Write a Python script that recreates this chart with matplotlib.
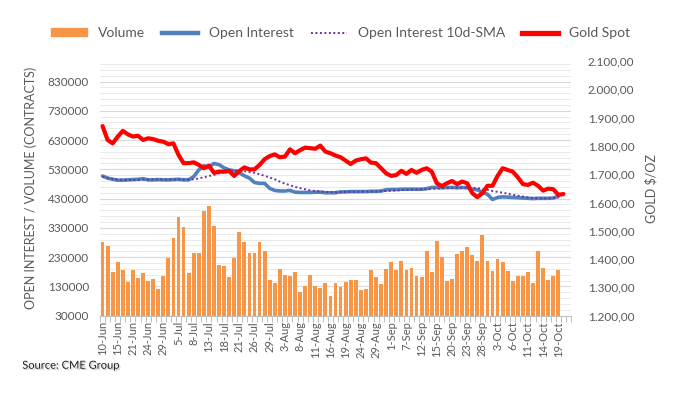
import matplotlib.pyplot as plt
import matplotlib.ticker as mticker
import matplotlib.patheffects as pe
from matplotlib.patches import Patch
from matplotlib.lines import Line2D
import numpy as np

# trading days from 10-Jun to 21-Oct (the last slot is empty)
n_slots = 93
tick_labels = ["10-Jun", "15-Jun", "21-Jun", "24-Jun", "29-Jun", "5-Jul", "8-Jul",
               "13-Jul", "18-Jul", "21-Jul", "26-Jul", "29-Jul", "3-Aug", "8-Aug",
               "11-Aug", "16-Aug", "19-Aug", "24-Aug", "29-Aug", "1-Sep", "7-Sep",
               "12-Sep", "15-Sep", "20-Sep", "23-Sep", "28-Sep", "3-Oct", "6-Oct",
               "11-Oct", "14-Oct", "19-Oct"]

volume = [283000, 268000, 179000, 213000, 186000, 145000, 186000, 159000, 175000, 148000,
          155000, 122000, 165000, 227000, 295000, 367000, 333000, 175000, 244000, 244000,
          387000, 404000, 336000, 203000, 200000, 162000, 227000, 316000, 281000, 244000,
          244000, 281000, 251000, 152000, 142000, 189000, 168000, 164000, 178000, 110000,
          131000, 168000, 131000, 124000, 140000, 97000, 140000, 128000, 145000, 152000,
          152000, 118000, 121000, 186000, 162000, 138000, 189000, 213000, 186000, 217000,
          186000, 193000, 165000, 162000, 251000, 179000, 285000, 230000, 148000, 155000,
          240000, 251000, 264000, 237000, 217000, 305000, 217000, 182000, 223000, 213000,
          182000, 148000, 165000, 165000, 179000, 141000, 251000, 193000, 152000, 165000,
          186000]

open_interest = [507000, 500000, 496000, 493000, 493000, 494000, 495000, 496000, 498000, 494000,
                 494000, 495000, 494000, 494000, 495000, 496000, 494000, 494000, 505000, 528000,
                 542000, 538000, 550000, 546000, 535000, 528000, 525000, 518000, 508000, 500000,
                 485000, 482000, 482000, 465000, 458000, 456000, 456000, 458000, 452000, 451000,
                 451000, 451000, 452000, 452000, 450000, 450000, 450000, 453000, 453000, 454000,
                 454000, 454000, 454000, 455000, 455000, 456000, 460000, 461000, 461000, 462000,
                 462000, 462000, 462000, 462000, 464000, 468000, 468000, 467000, 468000, 468000,
                 467000, 468000, 467000, 462000, 460000, 452000, 445000, 427000, 434000, 436000,
                 435000, 434000, 433000, 432000, 431000, 430000, 431000, 431000, 431000, 432000,
                 438000]

oi_sma = [505000, 500000, 497000, 495000, 494000, 494000, 494000, 494000, 495000, 495000,
          495000, 495000, 495000, 495000, 495000, 495000, 495000, 495000, 496000, 499000,
          503000, 507000, 511000, 516000, 521000, 524000, 527000, 526000, 524000, 521000,
          518000, 513000, 508000, 502000, 496000, 488000, 481000, 476000, 470000, 466000,
          462000, 458000, 456000, 454000, 453000, 452000, 452000, 452000, 453000, 453000,
          453000, 454000, 454000, 454000, 454000, 455000, 456000, 457000, 458000, 459000,
          460000, 461000, 461000, 462000, 462000, 463000, 464000, 465000, 466000, 466000,
          467000, 467000, 467000, 467000, 466000, 463000, 460000, 456000, 453000, 450000,
          447000, 443000, 440000, 437000, 434000, 432000, 431000, 431000, 431000, 432000,
          433000]

gold_spot = [1870, 1821, 1809, 1833, 1853, 1841, 1833, 1836, 1821, 1827,
             1824, 1818, 1815, 1806, 1809, 1768, 1739, 1739, 1742, 1733,
             1721, 1730, 1705, 1709, 1709, 1711, 1694, 1711, 1724, 1717,
             1717, 1733, 1753, 1764, 1770, 1760, 1762, 1788, 1774, 1785,
             1794, 1792, 1790, 1801, 1780, 1774, 1766, 1760, 1748, 1736,
             1748, 1753, 1756, 1741, 1739, 1721, 1703, 1694, 1697, 1712,
             1701, 1715, 1705, 1715, 1721, 1709, 1668, 1658, 1668, 1676,
             1665, 1674, 1668, 1633, 1619, 1633, 1659, 1659, 1694, 1721,
             1715, 1709, 1689, 1665, 1662, 1670, 1659, 1642, 1649, 1647,
             1627, 1630]

plt.rcParams['font.family'] = ['Lato', 'DejaVu Sans']
text_gray = '#595959'

fig = plt.figure(figsize=(6.74, 3.97), dpi=100)
ax = fig.add_axes([0.1484, 0.2048, 0.6988, 0.6415])
ax2 = ax.twinx()

x_vol = np.arange(len(volume))
ax.bar(x_vol, volume, width=0.75, color='#F79646', zorder=2)
ax.plot(np.arange(len(open_interest)), open_interest, color='#4F81BD', lw=2.6,
        solid_capstyle='round', zorder=3)
ax.plot(np.arange(len(oi_sma)), oi_sma, color='#7030A0', lw=1.4, linestyle=(0, (1, 1.3)),
        zorder=4)
ax2.plot(np.arange(len(gold_spot)), gold_spot, color='#FF0000', lw=3.0,
         solid_capstyle='round', solid_joinstyle='round')

ax.set_xlim(-0.5, n_slots - 0.5)
ax.set_ylim(30000, 900000)
ax2.set_ylim(1200, 2100)

ax.set_yticks(np.arange(30000, 900000, 100000))
ax.yaxis.set_minor_locator(mticker.FixedLocator(np.arange(30000, 900000, 20000)))
ax.grid(which='major', axis='y', color='#d9d9d9', lw=0.8, zorder=0)
ax.grid(which='minor', axis='y', color='#e6e6e6', lw=0.6, zorder=0)
ax.set_axisbelow(True)

ax2.set_yticks(np.arange(1200, 2101, 100))
ax2.yaxis.set_major_formatter(mticker.FuncFormatter(
    lambda v, p: f"{v:,.2f}".replace(',', 'X').replace('.', ',').replace('X', '.')))

ax.set_xticks(np.arange(0, 3 * len(tick_labels), 3))
ax.set_xticklabels(tick_labels, rotation=90)
ax.xaxis.set_minor_locator(mticker.FixedLocator(np.arange(-0.5, n_slots, 1)))
ax.tick_params(axis='x', which='major', length=0, pad=4, labelsize=8, labelcolor=text_gray)
ax.tick_params(axis='x', which='minor', length=4, color='#bfbfbf', width=0.7)
ax.tick_params(axis='y', which='both', length=0, labelsize=8.5, labelcolor=text_gray, pad=8)
ax2.tick_params(axis='y', length=0, labelsize=8.5, labelcolor=text_gray, pad=12)

for a in (ax, ax2):
    for side in ('top', 'left', 'right'):
        a.spines[side].set_visible(False)
    a.spines['bottom'].set_color('#bfbfbf')
ax2.spines['bottom'].set_visible(False)

ax.set_ylabel('OPEN INTEREST / VOLUME (CONTRACTS)', fontsize=9, color=text_gray, labelpad=8)
ax2.set_ylabel('GOLD $/OZ', fontsize=9, color=text_gray, rotation=90, labelpad=8)

handles = [Patch(color='#F79646'),
           Line2D([], [], color='#4F81BD', lw=3.2),
           Line2D([], [], color='#7030A0', lw=1.4, linestyle=(0, (1, 1.3))),
           Line2D([], [], color='#FF0000', lw=3.8)]
labels = ['Volume', 'Open Interest', 'Open Interest 10d-SMA', 'Gold Spot']
leg = fig.legend(handles, labels, loc='center', bbox_to_anchor=(0.505, 0.917), ncol=4,
                 frameon=False, fontsize=10, handlelength=2.6, handleheight=0.5,
                 columnspacing=1.2, handletextpad=0.8)
for t in leg.get_texts():
    t.set_color(text_gray)

fig.text(0.033, 0.08, 'Source: CME Group', fontsize=8, color='#222222', va='center',
         path_effects=[pe.SimplePatchShadow(offset=(1, -1), shadow_rgbFace='#999999', alpha=0.5),
                       pe.Normal()])

fig.savefig('out.png', dpi=100)
